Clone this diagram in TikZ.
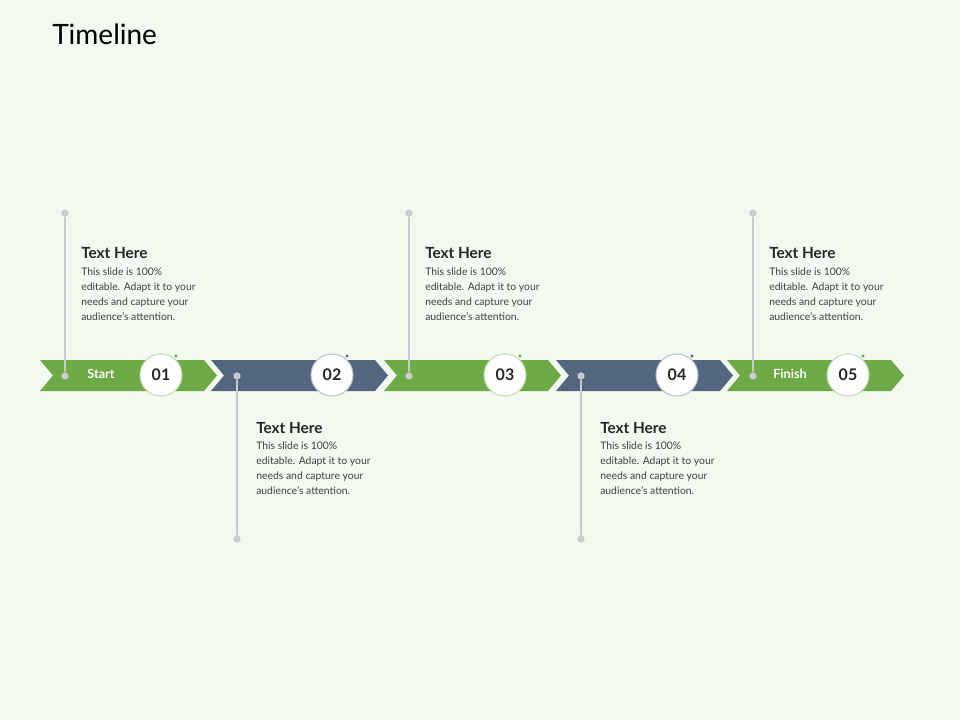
\documentclass[tikz,border=0pt]{standalone}
\usepackage{fontspec}
\setmainfont{Lato}
\usetikzlibrary{calc}
\definecolor{bgc}{HTML}{F2F9EE}
\definecolor{grn}{HTML}{6DA945}
\definecolor{blu}{HTML}{53667F}
\definecolor{lin}{HTML}{C8CCCC}
\tikzset{
  chev/.style={fill=#1, draw=none},
  numc/.style={circle, fill=white, draw=#1!40, line width=0.8pt, minimum size=31.5pt, inner sep=0pt, font=\bfseries\fontsize{12}{12}\selectfont, text=black!85},
  pin/.style={circle, fill=lin, inner sep=0pt, minimum size=5.5pt},
  head/.style={anchor=base west, inner sep=0pt, font=\bfseries\fontsize{11.5}{12}\selectfont, text=black!85},
  body/.style={anchor=north west, inner sep=0pt, align=left, font=\fontsize{7.8}{11.2}\selectfont, text=black!75}
}
\begin{document}
\begin{tikzpicture}[x=0.75pt,y=-0.75pt]
  \fill[bgc] (0,0) rectangle (960,720);
  \useasboundingbox (0,0) rectangle (960,720);
  \node[anchor=base west, inner sep=0pt, font=\fontsize{21}{24}\selectfont] (title) at (52,45) {Timeline};

  % Arrow band
  \foreach \i/\x/\c in {1/40/grn,2/211/blu,3/384/grn,4/556/blu,5/727/grn}{
    \fill[chev=\c] (\x,360) -- (\x+164,360) -- (\x+177,375.5) -- (\x+164,391)
      -- (\x,391) -- (\x+13,375.5) -- cycle;
    \node[numc=\c] (n\i) at (\x+121,375) {0\i};
    \fill[\c] ($(n\i)+(15,-19)$) circle (1.6);
  }
  \node[font=\bfseries\fontsize{9.5}{10}\selectfont, text=white] (start) at (101,374) {Start};
  \node[font=\bfseries\fontsize{9.5}{10}\selectfont, text=white] (finish) at (790,374) {Finish};

  % Upper pins
  \foreach \j/\x in {a/65,c/409,e/753}{
    \node[pin] (t\j) at (\x,213) {};
    \node[pin] (b\j) at (\x,376) {};
    \draw[lin, line width=0.8pt] (t\j) -- (b\j);
    \node[head] (h\j) at (\x+16,259) {Text Here};
    \node[body] (d\j) at (\x+16,268) {This slide is 100\%\\editable. Adapt it to your\\needs and capture your\\audience's attention.};
  }
  % Lower pins
  \foreach \j/\x in {b/237,d/581}{
    \node[pin] (t\j) at (\x,376) {};
    \node[pin] (b\j) at (\x,539) {};
    \draw[lin, line width=0.8pt] (t\j) -- (b\j);
    \node[head] (h\j) at (\x+19,433) {Text Here};
    \node[body] (d\j) at (\x+19,442) {This slide is 100\%\\editable. Adapt it to your\\needs and capture your\\audience's attention.};
  }
\end{tikzpicture}
\end{document}
